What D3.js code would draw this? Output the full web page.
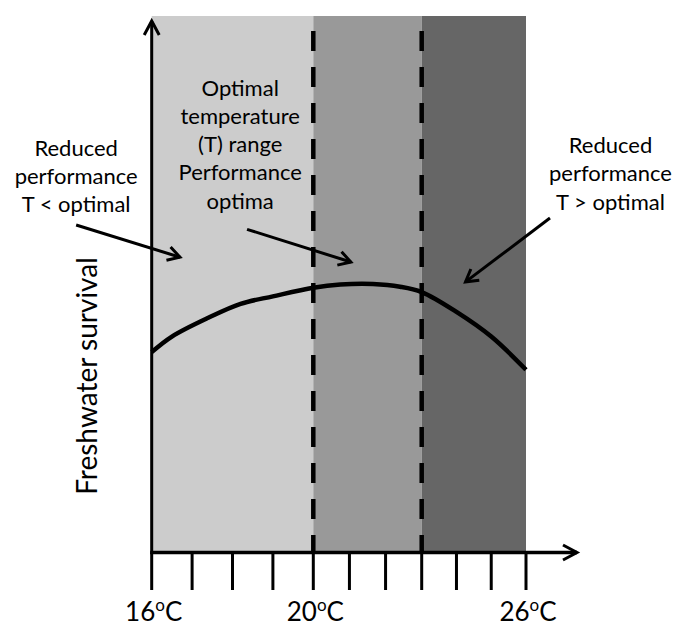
<!DOCTYPE html>
<html><head><meta charset="utf-8">
<script src="https://cdn.jsdelivr.net/npm/d3@7"></script>
<style>body{margin:0;background:#fff} svg{display:block}</style>
</head><body>
<svg id="chart" width="674" height="626"></svg>
<script>
// ---------- data ----------
const temps    = [16, 16.5, 17.4, 18.2, 19, 20, 20.75, 21.65, 22.4, 23, 24, 25, 26];
const survival = [37.3, 40.2, 43.7, 46.3, 47.7, 49.3, 49.9, 50.0, 49.5, 48.5, 44.8, 40.2, 34.0];
const tickValues = [16, 17, 18, 19, 20, 21, 22, 23, 24, 25, 26];
const tickLabelTemps = [16, 20, 26];
const tickLabelTexts = ["16", "20", "26"];
const bandStarts = [16, 20, 23];
const bandEnds   = [20, 23, 26];
const bandColors = ["#cccccc", "#999999", "#666666"];
const boundaryTemps = [20, 23];
const annotationLines = [
  ["Reduced", "performance", "T < optimal"],
  ["Optimal", "temperature", "(T) range", "Performance", "optima"],
  ["Reduced", "performance", "T > optimal"]
];
const annotationTextT = [14.13, 18.19, 28.43];
const annotationTextS = [73.9, 85.1, 74.4];
const arrowFromT = [14.13, 18.36, 26.69];
const arrowFromS = [61.0, 60.2, 62.3];
const arrowToT   = [16.70, 21.04, 24.26];
const arrowToS   = [55.0, 54.1, 50.4];
const yTitle = "Freshwater survival";

// ---------- layout ----------
const FONT = "Lato, 'Open Sans', sans-serif";
const svg = d3.select("#chart");
const x = d3.scaleLinear().domain([...bandStarts, 26]).range([151.7, 313.3, 421.7, 526]);
const y = d3.scaleLinear().domain([0, 100]).range([552, 16]);
const axisY = 552.5, axisX = 151.7;

// arrow markers
const defs = svg.append("defs");
function marker(id, len, half, sw) {
  defs.append("marker").attr("id", id)
    .attr("markerUnits", "userSpaceOnUse")
    .attr("viewBox", "-30 -30 60 60").attr("markerWidth", 60).attr("markerHeight", 60)
    .attr("refX", 0).attr("refY", 0).attr("orient", "auto")
    .append("path").attr("d", `M${-len},${-half} L0,0 L${-len},${half}`)
    .attr("fill", "none").attr("stroke", "#000").attr("stroke-width", sw)
    .attr("stroke-linejoin", "miter");
}
marker("axArrow", 14, 7.5, 3);
marker("annArrow", 12, 7, 3);

// bands
svg.append("g").selectAll("rect").data(bandStarts).join("rect")
  .attr("x", (d) => x(d))
  .attr("y", y(100))
  .attr("width", (d, i) => x(bandEnds[i]) - x(d))
  .attr("height", (d) => y(0) - y(100))
  .attr("fill", (d, i) => bandColors[i]);

// dashed boundaries
svg.append("g").selectAll("line").data(boundaryTemps).join("line")
  .attr("x1", d => x(d)).attr("x2", d => x(d))
  .attr("y1", 31).attr("y2", axisY)
  .attr("stroke", "#000").attr("stroke-width", 4.5)
  .attr("stroke-dasharray", "20 16");

// curve
const pts = temps.map((t, i) => [t, survival[i]]);
svg.append("path").datum(pts)
  .attr("d", d3.line().x(d => x(d[0])).y(d => y(d[1])).curve(d3.curveCatmullRom.alpha(0.5)))
  .attr("fill", "none").attr("stroke", "#000").attr("stroke-width", 4.5)
  .attr("stroke-linejoin", "round");

// ticks
svg.append("g").selectAll("line").data(tickValues).join("line")
  .attr("x1", d => x(d)).attr("x2", d => x(d))
  .attr("y1", axisY).attr("y2", 590)
  .attr("stroke", "#000").attr("stroke-width", 3);

// axes
svg.append("line").attr("x1", axisX).attr("x2", axisX).attr("y1", axisY + 1.5).attr("y2", 21)
  .attr("stroke", "#000").attr("stroke-width", 3).attr("marker-end", "url(#axArrow)");
svg.append("line").attr("x1", axisX - 1.5).attr("x2", 577).attr("y1", axisY).attr("y2", axisY)
  .attr("stroke", "#000").attr("stroke-width", 3.5).attr("marker-end", "url(#axArrow)");

// tick labels
const tl = svg.append("g").selectAll("text").data(tickLabelTemps).join("text")
  .attr("x", d => x(d) + 2).attr("y", 621)
  .attr("text-anchor", "middle")
  .attr("font-family", FONT).attr("font-size", 26).attr("fill", "#000");
tl.append("tspan").text((d, i) => tickLabelTexts[i]);
tl.append("tspan").attr("font-size", 17).attr("dy", -10).text("o");
tl.append("tspan").attr("dy", 10).text("C");

// y title
svg.append("text")
  .attr("transform", `translate(97,376) rotate(-90)`)
  .attr("text-anchor", "middle")
  .attr("font-family", FONT).attr("font-size", 28).attr("fill", "#000")
  .text(yTitle);

// annotation text
annotationLines.forEach((lines, i) => {
  const t = svg.append("text")
    .attr("text-anchor", "middle")
    .attr("font-family", FONT).attr("font-size", 22).attr("fill", "#000");
  lines.forEach((ln, j) => {
    t.append("tspan").attr("x", x(annotationTextT[i]))
      .attr("y", y(annotationTextS[i]) + j * 28.2).text(ln);
  });
});

// annotation arrows
svg.append("g").selectAll("line").data(arrowFromT).join("line")
  .attr("x1", d => x(d)).attr("y1", (d, i) => y(arrowFromS[i]))
  .attr("x2", (d, i) => x(arrowToT[i])).attr("y2", (d, i) => y(arrowToS[i]))
  .attr("stroke", "#000").attr("stroke-width", 3)
  .attr("marker-end", "url(#annArrow)");
</script>
</body></html>
